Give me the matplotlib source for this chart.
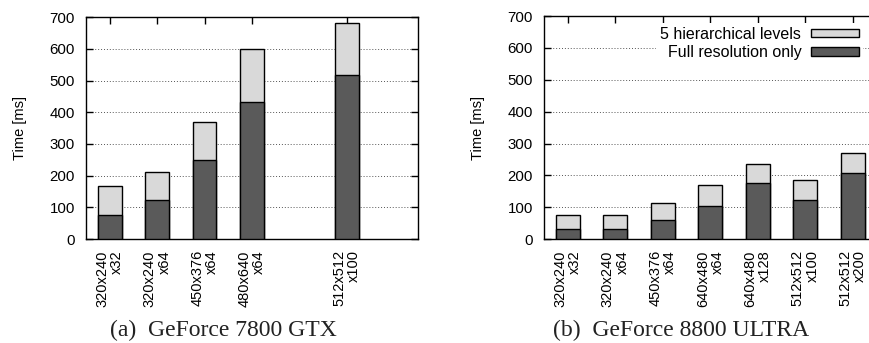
import matplotlib
matplotlib.use("Agg")
import matplotlib.pyplot as plt

plt.rcParams["font.family"] = ["Liberation Sans", "DejaVu Sans"]

# GeForce 7800 GTX
gtx_labels = ["320x240\nx32", "320x240\nx64", "450x376\nx64", "480x640\nx64", "512x512\nx100"]
gtx_pos = [0, 1, 2, 3, 5]
gtx_full = [75, 122, 249, 433, 516]
gtx_hier = [167, 211, 369, 598, 680]

# GeForce 8800 ULTRA
ultra_labels = ["320x240\nx32", "320x240\nx64", "450x376\nx64", "640x480\nx64",
                "640x480\nx128", "512x512\nx100", "512x512\nx200"]
ultra_pos = [0, 1, 2, 3, 4, 5, 6]
ultra_full = [32, 33, 61, 103, 175, 124, 209]
ultra_hier = [77, 77, 114, 171, 237, 185, 270]

light = "#d9d9d9"
dark = "#5a5a5a"


def draw_panel(ax, pos, labels, full, hier):
    ax.bar(pos, hier, width=0.5, color=light, edgecolor="black", linewidth=1.0,
           zorder=2, label="5 hierarchical levels")
    ax.bar(pos, full, width=0.5, color=dark, edgecolor="black", linewidth=1.0,
           zorder=3, label="Full resolution only")
    ax.set_xlim(-0.5, 6.5)
    ax.set_ylim(0, 700)
    ax.set_yticks(range(0, 701, 100))
    ax.set_xticks(pos)
    ax.set_xticklabels(labels, rotation=90, ha="center", va="top",
                       multialignment="right", fontsize=10.5, linespacing=1.05)
    ax.tick_params(axis="x", which="both", top=True, bottom=False, direction="in",
                   length=5, width=1.0, pad=8)
    ax.tick_params(axis="y", which="both", left=True, right=True, direction="in",
                   length=5, width=1.0, labelsize=10.8, pad=8)
    ax.yaxis.grid(True, linestyle=(0, (1, 2)), color="#555555", linewidth=0.7)
    ax.set_axisbelow(True)
    for sp in ax.spines.values():
        sp.set_linewidth(1.0)
    ax.set_ylabel("Time [ms]", fontsize=10.5)
    ax.yaxis.set_label_coords(-0.178, 0.5)


fig = plt.figure(figsize=(8.69, 3.43), dpi=100)
ax1 = fig.add_axes([0.099, 0.303, 0.382, 0.647])
ax2 = fig.add_axes([0.626, 0.303, 0.3826, 0.650])

draw_panel(ax1, gtx_pos, gtx_labels, gtx_full, gtx_hier)
draw_panel(ax2, ultra_pos, ultra_labels, ultra_full, ultra_hier)

leg = ax2.legend(loc="upper right", bbox_to_anchor=(0.959, 0.97), markerfirst=False,
                 fontsize=11.5, frameon=True, fancybox=False, framealpha=1.0,
                 edgecolor="none", facecolor="white", borderpad=0.25,
                 borderaxespad=0, handlelength=3.0, handleheight=0.45,
                 handletextpad=0.6, labelspacing=0.2)
leg.set_zorder(1.5)

fig.text(0.257, 0.036, "(a)  GeForce 7800 GTX", family=["Liberation Serif", "DejaVu Serif"],
         fontsize=17, ha="center", va="center", color="#222222")
fig.text(0.784, 0.036, "(b)  GeForce 8800 ULTRA", family=["Liberation Serif", "DejaVu Serif"],
         fontsize=17, ha="center", va="center", color="#222222")

fig.savefig("out.png", dpi=100)
